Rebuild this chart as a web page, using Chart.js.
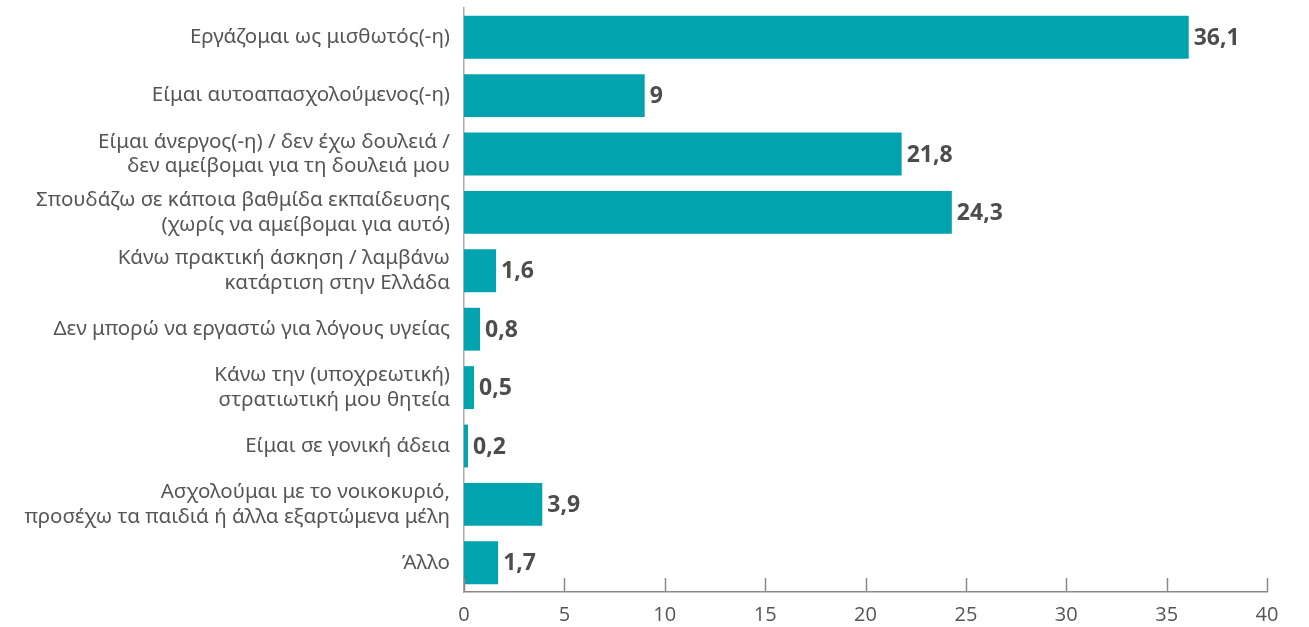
<!DOCTYPE html>
<html>
<head>
<meta charset="utf-8">
<script src="https://cdn.jsdelivr.net/npm/chart.js@4"></script>
<style>
  body { margin: 0; background: #fff; }
  #wrap { width: 1309px; height: 627px; }
</style>
</head>
<body>
<div id="wrap"><canvas id="bar-chart" width="1309" height="627"></canvas></div>
<script>
var categories = [
  'Εργάζομαι ως μισθωτός(-η)',
  'Είμαι αυτοαπασχολούμενος(-η)',
  ['Είμαι άνεργος(-η) / δεν έχω δουλειά /', 'δεν αμείβομαι για τη δουλειά μου'],
  ['Σπουδάζω σε κάποια βαθμίδα εκπαίδευσης', '(χωρίς να αμείβομαι για αυτό)'],
  ['Κάνω πρακτική άσκηση / λαμβάνω', 'κατάρτιση στην Ελλάδα'],
  'Δεν μπορώ να εργαστώ για λόγους υγείας',
  ['Κάνω την (υποχρεωτική)', 'στρατιωτική μου θητεία'],
  'Είμαι σε γονική άδεια',
  ['Ασχολούμαι με το νοικοκυριό,', 'προσέχω τα παιδιά ή άλλα εξαρτώμενα μέλη'],
  'Άλλο'
];
var values = [36.1, 9, 21.8, 24.3, 1.6, 0.8, 0.5, 0.2, 3.9, 1.7];
var xTicks = [0, 5, 10, 15, 20, 25, 30, 35, 40];

// etichette valori a fine barra
var valueLabels = {
  id: 'valueLabels',
  afterDatasetsDraw: function(chart) {
    var ctx = chart.ctx;
    var meta = chart.getDatasetMeta(0);
    ctx.save();
    ctx.font = 'bold 23px "Noto Sans", sans-serif';
    ctx.fillStyle = '#4d4d4d';
    ctx.textBaseline = 'middle';
    ctx.textAlign = 'left';
    meta.data.forEach(function(bar, i) {
      ctx.fillText(String(values[i]).replace('.', ','), bar.x + 5, bar.y + 1);
    });
    ctx.restore();
  }
};

// tacche verso l'interno sull'asse x
var innerTicks = {
  id: 'innerTicks',
  afterDraw: function(chart) {
    var ctx = chart.ctx;
    var x = chart.scales.x;
    var bottom = chart.chartArea.bottom;
    ctx.save();
    ctx.strokeStyle = '#888';
    ctx.lineWidth = 1.5;
    xTicks.forEach(function(t) {
      var px = Math.round(x.getPixelForValue(t)) + 0.5;
      ctx.beginPath();
      ctx.moveTo(px, bottom);
      ctx.lineTo(px, bottom - 14);
      ctx.stroke();
    });
    ctx.restore();
  }
};

var ctx = document.getElementById('bar-chart');
var myChart = new Chart(ctx, {
  type: 'bar',
  data: {
    labels: categories,
    datasets: [{
      data: values,
      backgroundColor: '#00a3ae',
      categoryPercentage: 0.734,
      barPercentage: 1
    }]
  },
  options: {
    indexAxis: 'y',
    responsive: false,
    animation: false,
    layout: { padding: { top: 8, right: 42, bottom: 0, left: 0 } },
    plugins: { legend: { display: false }, tooltip: { enabled: false } },
    scales: {
      x: {
        min: 0, max: 40,
        afterBuildTicks: function(scale) {
          scale.ticks = xTicks.map(function(v) { return { value: v }; });
        },
        afterFit: function(scale) { scale.height = 35; },
        grid: { display: false, drawTicks: false },
        border: { display: true, color: '#888', width: 1.5 },
        ticks: {
          padding: 11,
          color: '#555',
          font: { family: '"Open Sans", sans-serif', size: 20 }
        }
      },
      y: {
        afterFit: function(scale) {
          scale.width = 464;
          scale.paddingTop = 0;
          scale.paddingBottom = 0;
        },
        grid: { display: false, drawTicks: false },
        border: { display: true, color: '#aaa', width: 1.5 },
        ticks: {
          padding: 14,
          color: '#555',
          font: { family: '"Noto Sans", sans-serif', size: 20.5, lineHeight: 1.2 }
        }
      }
    }
  },
  plugins: [valueLabels, innerTicks]
});
</script>
</body>
</html>
